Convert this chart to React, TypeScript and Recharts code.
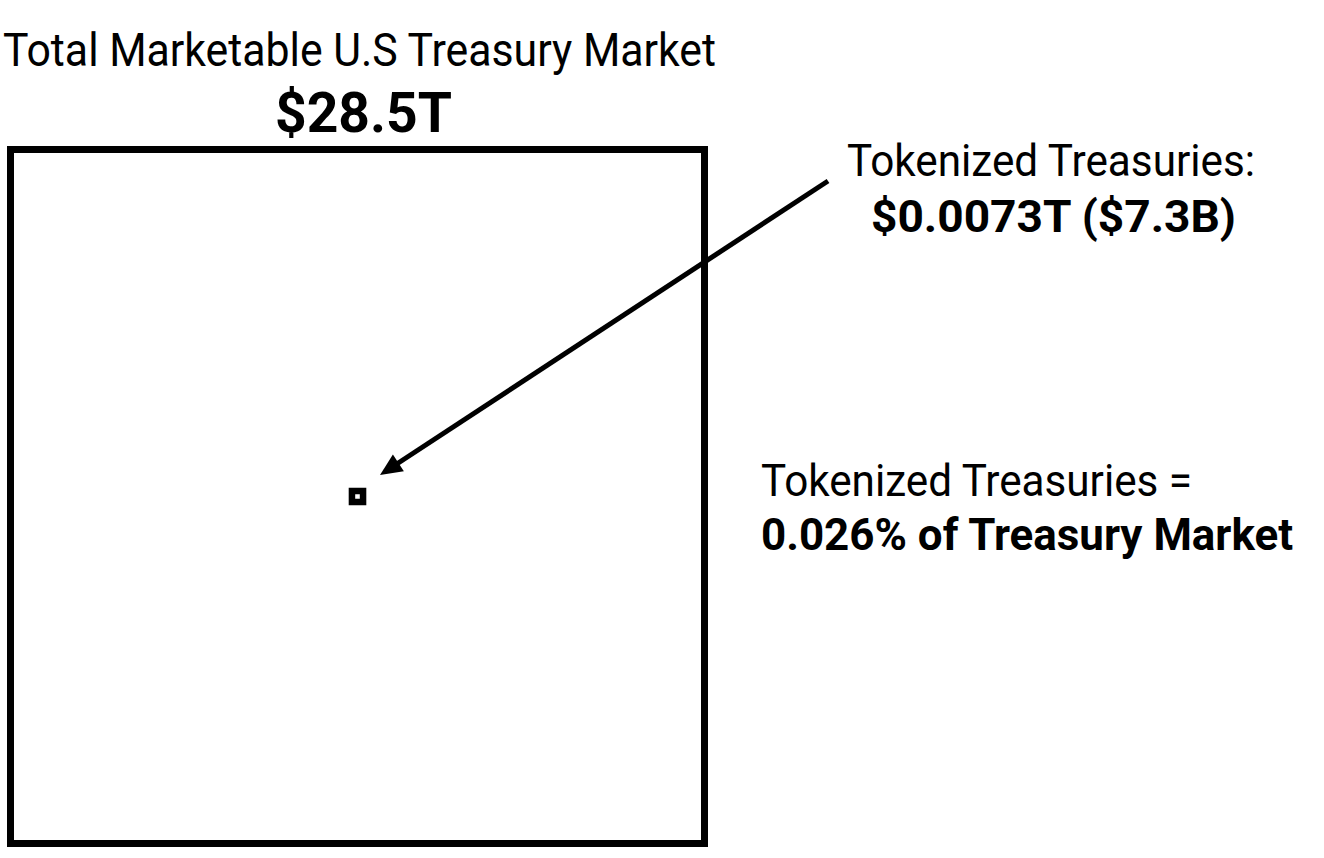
import React from 'react';
import { ComposedChart, XAxis, YAxis, ReferenceArea, ReferenceLine } from 'recharts';

// ---- data ----
const markets = ['Total Marketable U.S Treasury Market', 'Tokenized Treasuries'];
const valuesTrillion = [28.5, 0.0073];
const valueLabels = ['$28.5T', '$0.0073T ($7.3B)'];
const shareLabel = '0.026% of Treasury Market';

// ---- layout ----
const W = 1324;
const H = 858;
const BIG_LEFT = 10.5;
const BIG_BOTTOM = 843.5;
const BIG_PX = 694;
const FONT = 'Roboto, "Noto Sans", sans-serif';

const bigSide = Math.sqrt(valuesTrillion[0]);
const smallSide = Math.sqrt(valuesTrillion[1]);
const k = BIG_PX / bigSide; // px per unit
const xDomain = [-BIG_LEFT / k, (W - BIG_LEFT) / k];
const yDomain = [-(H - BIG_BOTTOM) / k, BIG_BOTTOM / k];
const toX = (px: number) => (px - BIG_LEFT) / k;
const toY = (py: number) => (BIG_BOTTOM - py) / k;

const center = bigSide / 2;

const ArrowShape = (props: any) => {
  const { x1, y1, x2, y2 } = props;
  // find which end is tip (lower-left)
  const tx = x1 < x2 ? x1 : x2;
  const ty = x1 < x2 ? y1 : y2;
  const sx = x1 < x2 ? x2 : x1;
  const sy = x1 < x2 ? y2 : y1;
  const dx = tx - sx;
  const dy = ty - sy;
  const len = Math.sqrt(dx * dx + dy * dy);
  const ux = dx / len;
  const uy = dy / len;
  const headLen = 22;
  const headW = 10;
  const bx = tx - ux * headLen;
  const by = ty - uy * headLen;
  const px = -uy;
  const py = ux;
  return (
    <g>
      <line x1={sx} y1={sy} x2={bx + ux * 2} y2={by + uy * 2} stroke="#000" strokeWidth={5} />
      <polygon
        points={`${tx},${ty} ${bx + px * headW},${by + py * headW} ${bx - px * headW},${by - py * headW}`}
        fill="#000"
      />
    </g>
  );
};

export default function App() {
  return (
    <div style={{ position: 'absolute', left: 0, top: 0, background: '#fff' }}>
      <ComposedChart width={W} height={H} data={[]} margin={{ top: 0, right: 0, bottom: 0, left: 0 }}>
        <XAxis type="number" dataKey="x" hide domain={xDomain} allowDataOverflow />
        <YAxis type="number" dataKey="y" hide domain={yDomain} allowDataOverflow />
        <ReferenceArea
          x1={0}
          x2={bigSide}
          y1={0}
          y2={bigSide}
          fill="none"
          fillOpacity={0}
          stroke="#000"
          strokeWidth={7}
          strokeOpacity={1}
          isAnimationActive={false}
        />
        <ReferenceArea
          x1={center - smallSide / 2}
          x2={center + smallSide / 2}
          y1={center - smallSide / 2}
          y2={center + smallSide / 2}
          fill="none"
          fillOpacity={0}
          stroke="#000"
          strokeWidth={6.5}
          strokeOpacity={1}
        />
        <ReferenceLine
          segment={[
            { x: toX(828), y: toY(181) },
            { x: toX(380), y: toY(475) },
          ]}
          ifOverflow="visible"
          shape={ArrowShape}
        />
        <g fontFamily={FONT} fill="#000">
          <text x={359.5} y={66} fontSize={46} textAnchor="middle" textLength={713} lengthAdjust="spacingAndGlyphs">
            {markets[0]}
          </text>
          <text x={363.5} y={132} fontSize={56} fontWeight="bold" textAnchor="middle" textLength={177} lengthAdjust="spacingAndGlyphs">
            {valueLabels[0]}
          </text>
          <text x={1051} y={176} fontSize={44} textAnchor="middle" textLength={408} lengthAdjust="spacingAndGlyphs">
            {markets[1] + ':'}
          </text>
          <text x={1053.5} y={232} fontSize={44} fontWeight="bold" textAnchor="middle" textLength={365} lengthAdjust="spacingAndGlyphs">
            {valueLabels[1]}
          </text>
          <text x={761} y={496} fontSize={44} textLength={431} lengthAdjust="spacingAndGlyphs">
            {markets[1] + ' ='}
          </text>
          <text x={761} y={550} fontSize={44} fontWeight="bold" textLength={532} lengthAdjust="spacingAndGlyphs">
            {shareLabel}
          </text>
        </g>
      </ComposedChart>
    </div>
  );
}
